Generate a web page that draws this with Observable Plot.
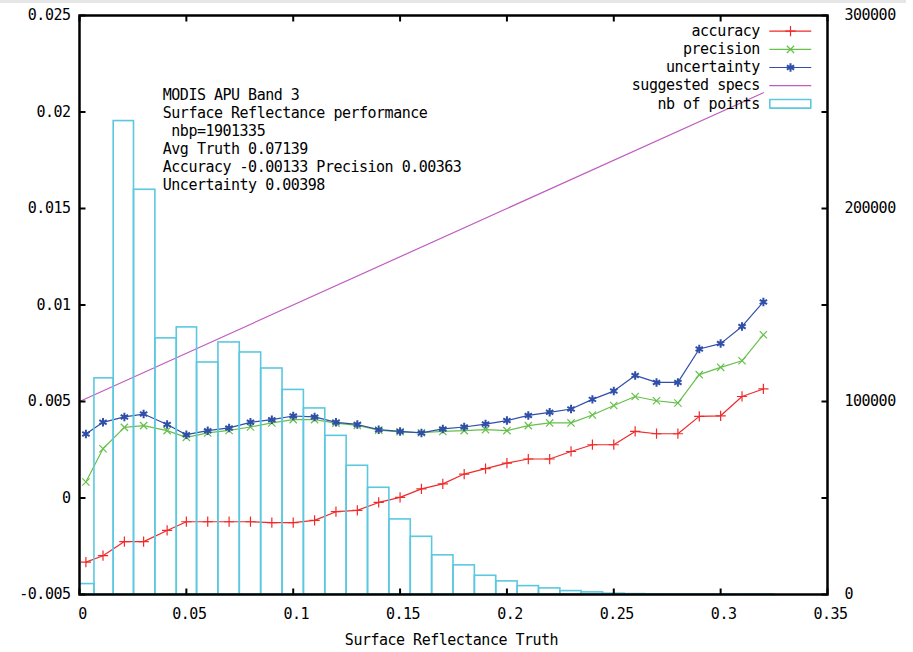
<!DOCTYPE html>
<html>
<head>
<meta charset="utf-8">
<script src="https://cdn.jsdelivr.net/npm/d3@7"></script>
<script src="https://cdn.jsdelivr.net/npm/@observablehq/plot@0.6"></script>
<style>
  html, body { margin: 0; padding: 0; background: #fff; }
  #strip { position: absolute; left: 0; top: 0; width: 906px; height: 3px; background: #e6e6e6; }
  #chart { position: absolute; left: 0; top: 0; }
</style>
</head>
<body>
<div id="chart"></div>
<div id="strip"></div>
<script>
// ---- data ----
const truth = [0.003, 0.011, 0.021, 0.030, 0.041, 0.050, 0.060, 0.070, 0.080, 0.090, 0.100,
  0.110, 0.120, 0.130, 0.140, 0.150, 0.160, 0.170, 0.180, 0.190, 0.200, 0.210, 0.220,
  0.230, 0.240, 0.250, 0.260, 0.270, 0.280, 0.290, 0.300, 0.310, 0.320];

const accuracy = [-0.00332, -0.00299, -0.00226, -0.00226, -0.00168, -0.00123, -0.00123, -0.00123,
  -0.00123, -0.00128, -0.00128, -0.00116, -0.00071, -0.00064, -0.00023, 0.00003, 0.00047,
  0.00073, 0.00124, 0.00152, 0.00181, 0.00202, 0.00202, 0.00241, 0.00276, 0.00276, 0.00345,
  0.00333, 0.00333, 0.00423, 0.00426, 0.00526, 0.00565];

const precision = [0.00083, 0.00255, 0.00366, 0.00375, 0.00349, 0.00314, 0.00337, 0.00350,
  0.00368, 0.00389, 0.00406, 0.00406, 0.00388, 0.00376, 0.00352, 0.00343, 0.00338, 0.00345,
  0.00349, 0.00354, 0.00349, 0.00375, 0.00389, 0.00389, 0.00430, 0.00479, 0.00526, 0.00504,
  0.00492, 0.00639, 0.00677, 0.00711, 0.00846];

const uncertainty = [0.00332, 0.00392, 0.00420, 0.00435, 0.00381, 0.00328, 0.00349, 0.00363,
  0.00392, 0.00406, 0.00425, 0.00420, 0.00392, 0.00381, 0.00354, 0.00345, 0.00337, 0.00358,
  0.00368, 0.00383, 0.00401, 0.00428, 0.00444, 0.00461, 0.00511, 0.00554, 0.00635, 0.00599,
  0.00599, 0.00772, 0.00800, 0.00889, 0.01016];

const nbPoints = [5400, 112000, 245300, 209700, 132700, 138400, 120200, 130600, 125400, 117100,
  106000, 96400, 82200, 66700, 55300, 38900, 29900, 20300, 15100, 9700, 6800, 4350, 3160,
  1760, 1100, 400, 200, 100, 60, 30, 20, 10, 5];

const specsTruth = [0, 0.32];
const specsValue = [0.005, 0.021];

const xTicks = [0, 0.05, 0.1, 0.15, 0.2, 0.25, 0.3, 0.35];
const xTickLabels = ["0", "0.05", "0.1", "0.15", "0.2", "0.25", "0.3", "0.35"];
const yTicks = [-0.005, 0, 0.005, 0.01, 0.015, 0.02, 0.025];
const yTickLabels = ["-0.005", "0", "0.005", "0.01", "0.015", "0.02", "0.025"];
const countTicks = [0, 100000, 200000, 300000];
const countTickLabels = ["0", "100000", "200000", "300000"];
const countMax = 300000;

const xTitle = "Surface Reflectance Truth";
const infoLines = [
  "MODIS APU Band 3",
  "Surface Reflectance performance",
  " nbp=1901335",
  "Avg Truth 0.07139",
  "Accuracy -0.00133 Precision 0.00363",
  "Uncertainty 0.00398"
];
const legendLabels = ["accuracy", "precision", "uncertainty", "suggested specs", "nb of points"];

// ---- styling ----
const C = {acc: "#f02a2a", prec: "#66c04c", unc: "#2f4fa8", spec: "#c05cc0", hist: "#5cc8e0"};
const yMin = -0.005, yMax = 0.025;

// ---- derived tables ----
const table = truth.map((t, i) => ({truth: t, accuracy: accuracy[i], precision: precision[i], uncertainty: uncertainty[i]}));
const n = truth.length;
const hist = truth.map((t, i) => ({
  x1: i === 0 ? t - (truth[1] - t) / 2 : (truth[i - 1] + t) / 2,
  x2: i === n - 1 ? t + (t - truth[i - 1]) / 2 : (t + truth[i + 1]) / 2,
  y1: yMin,
  y2: yMin + nbPoints[i] / countMax * (yMax - yMin)
}));
const specs = specsTruth.map((t, i) => ({truth: t, value: specsValue[i]}));
const countY = c => yMin + c / countMax * (yMax - yMin);

const tickUp = {draw(ctx, l) { ctx.moveTo(0, 0); ctx.lineTo(0, -l); }};
const boxShape = {draw(ctx, l) { ctx.rect(0, -4.3, l, 8.6); }};

const tickLen = 6;
const legendDy = i => 15.7 + i * 18.15;
const sym = {
  acc: {symbol: "plus", r: 3.4},
  prec: {symbol: "times", r: 3.4},
  unc: {symbol: "asterisk", r: 4}
};
const legendSymbols = [
  {...sym.acc, stroke: C.acc, strokeWidth: 1.2},
  {...sym.prec, stroke: C.prec, strokeWidth: 1.2},
  {...sym.unc, stroke: C.unc, strokeWidth: 2}
];

const legendMarks = [];
legendLabels.forEach((label, i) => {
  legendMarks.push(Plot.text([label], {frameAnchor: "top-right", dx: -67.7, dy: legendDy(i), textAnchor: "end", lineAnchor: "middle", text: d => d, fill: "black"}));
});
[C.acc, C.prec, C.unc, C.spec].forEach((col, i) => {
  legendMarks.push(Plot.vector([0], {frameAnchor: "top-right", dx: -57.7, dy: legendDy(i), rotate: 90, length: 41, anchor: "start", shape: tickUp, stroke: col, strokeWidth: 1.2}));
});
legendSymbols.forEach((s, i) => {
  legendMarks.push(Plot.dot([0], {frameAnchor: "top-right", dx: -37, dy: legendDy(i), ...s}));
});
legendMarks.push(Plot.vector([0], {frameAnchor: "top-right", dx: -57.7, dy: legendDy(4), rotate: 0, length: 41, anchor: "start", shape: boxShape, stroke: C.hist, strokeWidth: 1.6}));

const chart = Plot.plot({
  width: 913,
  height: 652,
  marginLeft: 79,
  marginRight: 86,
  marginTop: 15,
  marginBottom: 58,
  x: {domain: [0, 0.35], axis: null},
  y: {domain: [yMin, yMax], axis: null},
  style: {fontFamily: "'DejaVu Sans Mono', monospace", fontSize: "15px", background: "white", color: "black", letterSpacing: "-0.5px"},
  marks: [
    // series
    Plot.line(table, {x: "truth", y: "accuracy", stroke: C.acc, strokeWidth: 1.2}),
    Plot.dot(table, {x: "truth", y: "accuracy", ...sym.acc, stroke: C.acc, strokeWidth: 1.2}),
    Plot.line(table, {x: "truth", y: "precision", stroke: C.prec, strokeWidth: 1.2}),
    Plot.dot(table, {x: "truth", y: "precision", ...sym.prec, stroke: C.prec, strokeWidth: 1.2}),
    Plot.line(table, {x: "truth", y: "uncertainty", stroke: C.unc, strokeWidth: 1.2}),
    Plot.dot(table, {x: "truth", y: "uncertainty", ...sym.unc, stroke: C.unc, strokeWidth: 2}),
    Plot.line(specs, {x: "truth", y: "value", stroke: C.spec, strokeWidth: 1.2}),
    // histogram (right axis)
    Plot.rect(hist, {x1: "x1", x2: "x2", y1: "y1", y2: "y2", fill: "none", stroke: C.hist, strokeWidth: 1.6, clip: true}),
    // frame
    Plot.frame({stroke: "black", strokeWidth: 2.5}),
    // inward ticks
    Plot.vector(xTicks, {x: d => d, frameAnchor: "bottom", rotate: 0, length: tickLen, anchor: "start", shape: tickUp, stroke: "black", strokeWidth: 2, strokeLinecap: "butt"}),
    Plot.vector(xTicks, {x: d => d, frameAnchor: "top", rotate: 180, length: tickLen, anchor: "start", shape: tickUp, stroke: "black", strokeWidth: 2, strokeLinecap: "butt"}),
    Plot.vector(yTicks, {y: d => d, frameAnchor: "left", rotate: 90, length: tickLen, anchor: "start", shape: tickUp, stroke: "black", strokeWidth: 2, strokeLinecap: "butt"}),
    Plot.vector(yTicks, {y: d => d, frameAnchor: "right", rotate: -90, length: tickLen, anchor: "start", shape: tickUp, stroke: "black", strokeWidth: 2, strokeLinecap: "butt"}),
    // tick labels
    Plot.text(xTicks, {x: d => d, frameAnchor: "bottom", dy: 19.5, dx: 3, lineAnchor: "middle", text: (d, i) => xTickLabels[i], fill: "black"}),
    Plot.text(yTicks, {y: d => d, frameAnchor: "left", dx: -9, textAnchor: "end", lineAnchor: "middle", text: (d, i) => yTickLabels[i], fill: "black"}),
    Plot.text(countTicks, {y: d => countY(d), frameAnchor: "right", dx: 17, textAnchor: "start", lineAnchor: "middle", text: (d, i) => countTickLabels[i], fill: "black"}),
    Plot.text([xTitle], {frameAnchor: "bottom", dy: 46, dx: -2, lineAnchor: "middle", text: d => d, fill: "black"}),
    // info block
    Plot.text([infoLines.join("\n")], {frameAnchor: "top-left", dx: 83.3, dy: 71.3, textAnchor: "start", lineAnchor: "top", lineHeight: 1.207, text: d => d, fill: "black"}),
    ...legendMarks
  ]
});
document.getElementById("chart").appendChild(chart);
</script>
</body>
</html>
